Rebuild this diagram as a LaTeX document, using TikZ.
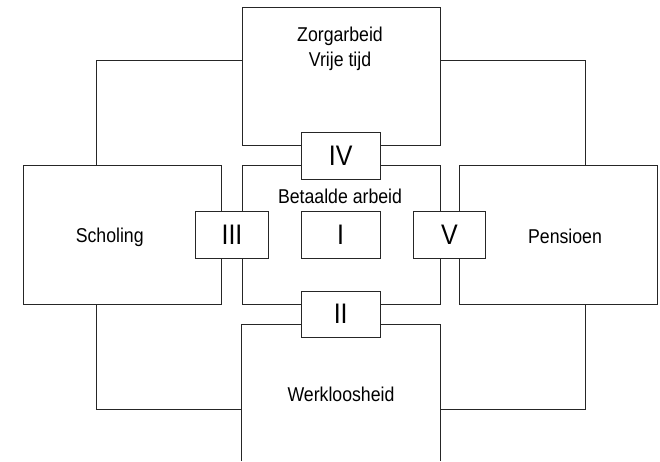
\documentclass[tikz,border=0pt]{standalone}
\usepackage{fontspec}
\setmainfont{Liberation Sans}
\newcommand{\tallt}[1]{\scalebox{1}[1.13]{#1}}
\begin{document}
\begin{tikzpicture}[x=1pt,y=-1pt,
  line/.style={draw=black!85,line width=0.9pt},
  bigbox/.style={line,fill=white,minimum width=198pt,minimum height=138.4pt,inner sep=0pt},
  smallbox/.style={line,fill=white,minimum width=79.3pt,minimum height=46.3pt,inner sep=0pt,font=\fontsize{25}{30}\selectfont},
  lbl/.style={font=\fontsize{17.7}{25}\selectfont,anchor=base,align=center,inner sep=0pt}]
\useasboundingbox (0,0) rectangle (660,461);
% big boxes
\node[bigbox] (zorg) at (341,76.5) {};
\node[bigbox] (schol) at (122.7,234.85) {};
\node[bigbox] (mid) at (341,234.85) {};
\node[bigbox] (pens) at (558.3,234.85) {};
\node[inner sep=0pt,minimum width=198pt,minimum height=136.7pt] (werk) at (341,392.65) {};
\draw[line] (werk.south west) -- (werk.north west) -- (werk.north east) -- (werk.south east);
% connectors
\draw[line] ([yshift=16.2pt]zorg.west) -| ([xshift=-26pt]schol.north);
\draw[line] ([yshift=16.2pt]zorg.east) -| ([xshift=26.7pt]pens.north);
\draw[line] ([yshift=-17pt]werk.west) -| ([xshift=-26pt]schol.south);
\draw[line] ([yshift=-17pt]werk.east) -| ([xshift=26.7pt]pens.south);
% small boxes
\node[smallbox] (iv) at (340.7,155.85) {\tallt{IV}};
\node[smallbox] (i) at (340.7,234.85) {\tallt{I}};
\node[smallbox,minimum height=45.7pt] (ii) at (340.7,314.15) {\tallt{II}};
\node[smallbox,minimum width=72.6pt] (iii) at (232,234.85) {\tallt{III}};
\node[smallbox,minimum width=72.7pt] (v) at (449.35,234.85) {\tallt{V}};
% labels
\node[lbl] (tzorg) at (340,66.7) {\tallt{Zorgarbeid}\\\tallt{Vrije tijd}};
\node[lbl] (tmid) at (340,203.7) {\tallt{Betaalde arbeid}};
\node[lbl] (tschol) at (109.7,242.7) {\tallt{Scholing}};
\node[lbl] (tpens) at (565,243) {\tallt{Pensioen}};
\node[lbl] (twerk) at (341,401) {\tallt{Werkloosheid}};
\end{tikzpicture}
\end{document}
